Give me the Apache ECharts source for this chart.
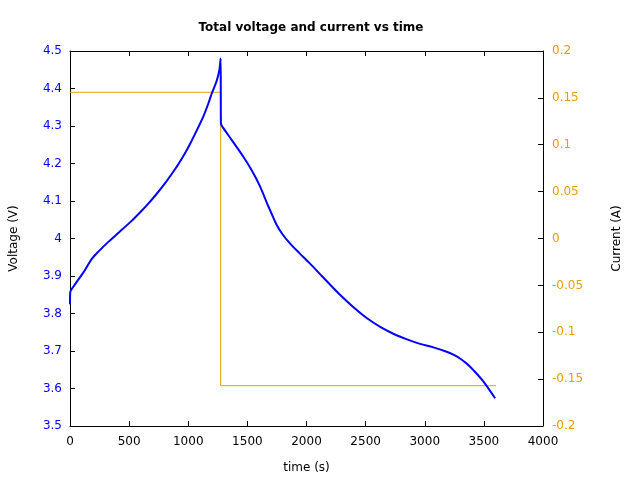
<!DOCTYPE html>
<html>
<head>
<meta charset="utf-8">
<script src="https://cdn.jsdelivr.net/npm/echarts@6/dist/echarts.min.js"></script>
<style>html,body{margin:0;padding:0;background:#fff}#c{width:640px;height:480px}</style>
</head>
<body>
<div id="c"></div>
<script>
const titleText = "Total voltage and current vs time";
const xName = "time (s)";
const leftName = "Voltage (V)";
const rightName = "Current (A)";

const voltTime = [0, 2, 30, 85, 127, 183, 240, 324, 420, 521, 600, 662, 730, 803, 860, 916, 970, 1015, 1070, 1127, 1170, 1198, 1240, 1263, 1274, 1276, 1283, 1367, 1466, 1540, 1607, 1677, 1748, 1800, 1860, 1940, 2030, 2130, 2227, 2283, 2400, 2509, 2620, 2734, 2850, 2960, 3080, 3185, 3250, 3298, 3360, 3411, 3495, 3595];
const voltage = [3.825, 3.857, 3.872, 3.897, 3.916, 3.945, 3.965, 3.991, 4.018, 4.047, 4.072, 4.093, 4.118, 4.147, 4.172, 4.198, 4.226, 4.252, 4.287, 4.325, 4.360, 4.386, 4.420, 4.449, 4.48, 4.307, 4.301, 4.263, 4.218, 4.180, 4.139, 4.086, 4.036, 4.010, 3.987, 3.961, 3.933, 3.900, 3.868, 3.850, 3.816, 3.788, 3.765, 3.746, 3.731, 3.719, 3.709, 3.698, 3.689, 3.680, 3.665, 3.649, 3.619, 3.574];

const currentTime = [0, 1274, 1274, 3603];
const current = [0.156, 0.156, -0.157, -0.157];

const FONT = "DejaVu Sans";
const BLUE = "#0000ff";
const ORANGE = "#e69f00";

const chart = echarts.init(document.getElementById('c'), null, {renderer: 'canvas'});
const fmt = v => String(parseFloat(Number(v).toFixed(4)));

chart.setOption({
  animation: false,
  backgroundColor: '#fff',
  title: {
    text: titleText, left: 306, top: 17, textAlign: 'center',
    textStyle: {fontFamily: FONT, fontSize: 12, fontWeight: 'bold', color: '#000'}
  },
  grid: {left: 70, right: 97, top: 51, bottom: 54, containLabel: false},
  xAxis: [{
    type: 'value', min: 0, max: 4000, interval: 500, position: 'bottom',
    name: xName, nameLocation: 'middle', nameGap: 36,
    nameTextStyle: {fontFamily: FONT, fontSize: 12, color: '#000'},
    axisLine: {show: true, onZero: false, lineStyle: {color: '#000', width: 1}},
    axisTick: {show: true, inside: true, length: 5, lineStyle: {color: '#000'}},
    axisLabel: {fontFamily: FONT, fontSize: 12, color: '#000', margin: 10, formatter: fmt},
    splitLine: {show: false}
  }, {
    type: 'value', min: 0, max: 4000, interval: 500, position: 'top',
    axisLine: {show: true, onZero: false, lineStyle: {color: '#000', width: 1}},
    axisTick: {show: true, inside: true, length: 5, lineStyle: {color: '#000'}},
    axisLabel: {show: false},
    splitLine: {show: false}
  }],
  yAxis: [{
    type: 'value', min: 3.5, max: 4.5, interval: 0.1, position: 'left',
    name: leftName, nameLocation: 'middle', nameGap: 50, nameRotate: 90,
    nameTextStyle: {fontFamily: FONT, fontSize: 12, color: '#000'},
    axisLine: {show: true, onZero: false, lineStyle: {color: '#000', width: 1}},
    axisTick: {show: true, inside: true, length: 5, lineStyle: {color: '#000'}},
    axisLabel: {fontFamily: FONT, fontSize: 12, color: BLUE, margin: 8, formatter: fmt},
    splitLine: {show: false}
  }, {
    type: 'value', min: -0.2, max: 0.2, interval: 0.05, position: 'right',
    name: rightName, nameLocation: 'middle', nameGap: 68, nameRotate: 90,
    nameTextStyle: {fontFamily: FONT, fontSize: 12, color: '#000'},
    axisLine: {show: true, onZero: false, lineStyle: {color: '#000', width: 1}},
    axisTick: {show: true, inside: true, length: 5, lineStyle: {color: '#000'}},
    axisLabel: {fontFamily: FONT, fontSize: 12, color: ORANGE, margin: 9, formatter: fmt},
    splitLine: {show: false}
  }],
  series: [{
    type: 'line', xAxisIndex: 0, yAxisIndex: 1, showSymbol: false, symbol: 'none',
    data: currentTime.map((t, i) => [t, current[i]]),
    lineStyle: {color: ORANGE, width: 1}, z: 2
  }, {
    type: 'line', xAxisIndex: 0, yAxisIndex: 0, showSymbol: false, symbol: 'none',
    smooth: 0.3,
    data: voltTime.map((t, i) => [t, voltage[i]]),
    lineStyle: {color: BLUE, width: 2}, z: 3
  }]
});
</script>
</body>
</html>
